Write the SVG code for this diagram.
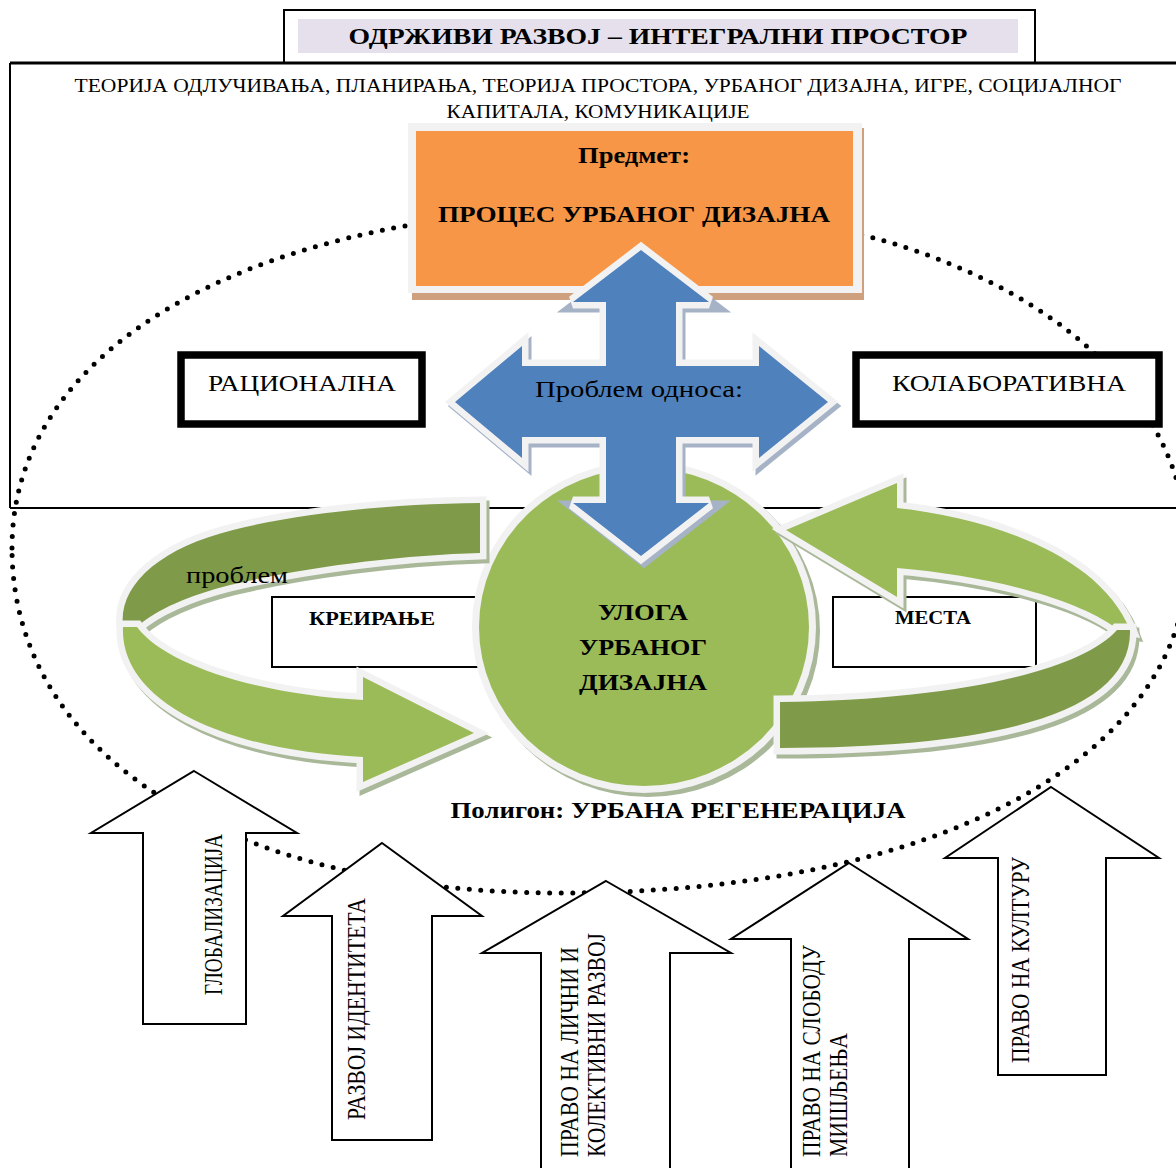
<svg xmlns="http://www.w3.org/2000/svg" width="1176" height="1168" viewBox="0 0 1176 1168">
<style>
text{font-family:"Liberation Serif","DejaVu Serif",serif;fill:#000}
.b{font-weight:bold}
.frame{fill:none;stroke:#000;stroke-width:2}
.dots{fill:none;stroke:#000;stroke-width:5;stroke-linecap:round;stroke-dasharray:0 11.5}
.thick{fill:#fff;stroke:#000;stroke-width:7.5}
.thin{fill:#fff;stroke:#000;stroke-width:2}
.up{fill:#fff;stroke:#000;stroke-width:2;stroke-linejoin:miter}
.out{stroke:#f2f2f2;stroke-width:13;paint-order:stroke;stroke-linejoin:miter;stroke-miterlimit:3}
.gsh{fill:#aab89a;stroke:#aab89a;stroke-width:13;stroke-linejoin:miter;stroke-miterlimit:3}
.lg{fill:#9bbb59}
.dg{fill:#7f9a48}
</style>
<defs>
<path id="cross" d="M641,250 L709,302 L676,302 L676,366 L759,366 L759,346 L828,402 L759,458 L759,437 L676,437 L676,503 L709,503 L641,556 L573,503 L606,503 L606,437 L522,437 L522,458 L455,402 L522,346 L522,366 L606,366 L606,302 L573,302 Z"/>
<path id="ldark" d="M480,503 L480,553 C400,555 300,568 230,585 C190,595 155,610 137,627 L123,627 C118,585 160,548 233,530 C300,513 390,504 480,503 Z"/>
<path id="llight" d="M123,627 C120,700 220,750 363,757 L363,782 L474,733 L363,677 L363,700 C260,695 165,665 137,627 Z"/>
<path id="rlight" d="M786,530 L897,483 L897,508 C990,518 1100,555 1130,630 L1116,628 C1075,598 990,576 897,568 L897,597 Z"/>
<path id="rdark" d="M1130,630 C1132,712 1000,748 780,748 L780,702 C950,700 1080,672 1117,630 Z"/>
</defs>

<!-- dotted polygon ellipse -->
<path class="dots" d="M12,548 C12,343 259,207 630,207 C958,207 1188,354 1188,555 C1188,758 937,893 560,893 C231,893 12,755 12,548 Z"/>

<!-- frames -->
<g id="frame">
<line class="frame" x1="10" y1="63" x2="1176" y2="63" style="stroke-width:3"/>
<line class="frame" x1="10" y1="63" x2="10" y2="508"/>
<line class="frame" x1="10" y1="508" x2="1176" y2="508"/>
</g>

<g id="title">
<rect x="284" y="10" width="751" height="53" class="frame"/>
<rect x="298" y="19" width="720" height="34" fill="#e5e0ec"/>
<text x="658" y="44" class="b" font-size="23" text-anchor="middle" textLength="619" lengthAdjust="spacingAndGlyphs">ОДРЖИВИ РАЗВОЈ – ИНТЕГРАЛНИ ПРОСТОР</text>
</g>

<g id="theories">
<text x="598" y="92" font-size="19" text-anchor="middle" textLength="1047" lengthAdjust="spacingAndGlyphs">ТЕОРИЈА ОДЛУЧИВАЊА, ПЛАНИРАЊА, ТЕОРИЈА ПРОСТОРА, УРБАНОГ ДИЗАЈНА, ИГРЕ, СОЦИЈАЛНОГ</text>
<text x="598" y="118" font-size="19" text-anchor="middle" textLength="303" lengthAdjust="spacingAndGlyphs">КАПИТАЛА, КОМУНИКАЦИЈЕ</text>
</g>

<g id="predmet">
<rect x="412" y="128" width="452" height="172" fill="#cfa07d"/>
<rect x="408" y="123" width="454" height="170" fill="#f2f2f2"/>
<rect x="416" y="131" width="437" height="155" fill="#f79646"/>
<text x="634" y="163" class="b" font-size="23" text-anchor="middle" textLength="112" lengthAdjust="spacingAndGlyphs">Предмет:</text>
<text x="634" y="222" class="b" font-size="23" text-anchor="middle" textLength="392" lengthAdjust="spacingAndGlyphs">ПРОЦЕС УРБАНОГ ДИЗАЈНА</text>
</g>

<g id="racionalna">
<rect x="181" y="355" width="241" height="69" class="thick"/>
<text x="302" y="391" font-size="24" text-anchor="middle" textLength="188" lengthAdjust="spacingAndGlyphs">РАЦИОНАЛНА</text>
</g>

<g id="kolaborativna">
<rect x="856" y="355" width="303" height="69" class="thick"/>
<text x="1009" y="391" font-size="24" text-anchor="middle" textLength="234" lengthAdjust="spacingAndGlyphs">КОЛАБОРАТИВНА</text>
</g>

<g id="kreiranje">
<rect x="272" y="597" width="230" height="70" class="thin"/>
<text x="372" y="625" class="b" font-size="18" text-anchor="middle" textLength="126" lengthAdjust="spacingAndGlyphs">КРЕИРАЊЕ</text>
</g>

<g id="mesta">
<rect x="833" y="597" width="203" height="70" class="thin"/>
<text x="933" y="624" class="b" font-size="18" text-anchor="middle" textLength="76" lengthAdjust="spacingAndGlyphs">МЕСТА</text>
</g>

<g id="uloga">
<ellipse cx="648" cy="631" rx="172" ry="166" fill="#aab89a"/>
<ellipse cx="644" cy="627" rx="172" ry="166" fill="#f2f2f2"/>
<ellipse cx="644" cy="627" rx="165" ry="159" fill="#9bbb59"/>
<text x="643" y="620" class="b" font-size="24" text-anchor="middle" textLength="90" lengthAdjust="spacingAndGlyphs">УЛОГА</text>
<text x="643" y="655" class="b" font-size="24" text-anchor="middle" textLength="128" lengthAdjust="spacingAndGlyphs">УРБАНОГ</text>
<text x="643" y="690" class="b" font-size="24" text-anchor="middle" textLength="128" lengthAdjust="spacingAndGlyphs">ДИЗАЈНА</text>
</g>

<g id="arrow-left">
<use href="#ldark" class="gsh" transform="translate(3,4)"/>
<use href="#llight" class="gsh" transform="translate(3,4)"/>
<use href="#ldark" class="dg out"/>
<use href="#llight" class="lg out"/>
</g>

<g id="arrow-right">
<use href="#rlight" class="gsh" transform="translate(3,4)"/>
<use href="#rdark" class="gsh" transform="translate(3,4)"/>
<use href="#rlight" class="lg out"/>
<use href="#rdark" class="dg out"/>
</g>

<g id="problem-odnosa">
<use href="#cross" transform="translate(3,4)" fill="#a6b3c7" stroke="#a6b3c7" stroke-width="13" stroke-linejoin="miter"/>
<use href="#cross" fill="#4f81bd" class="out"/>
<text x="639" y="397" font-size="24" text-anchor="middle" textLength="208" lengthAdjust="spacingAndGlyphs">Проблем односа:</text>
</g>

<text x="186" y="583" font-size="24" textLength="102" lengthAdjust="spacingAndGlyphs">проблем</text>

<text x="678" y="818" class="b" font-size="23" text-anchor="middle" textLength="455" lengthAdjust="spacingAndGlyphs">Полигон: УРБАНА РЕГЕНЕРАЦИЈА</text>

<g id="globalizacija">
<path class="up" d="M194,771 L297,833 L246,833 L246,1024 L143,1024 L143,833 L91,833 Z"/>
<text transform="translate(222,995) rotate(-90)" font-size="25" textLength="161" lengthAdjust="spacingAndGlyphs">ГЛОБАЛИЗАЦИЈА</text>
</g>

<g id="identitet">
<path class="up" d="M382,843 L482,916 L432,916 L432,1140 L332,1140 L332,916 L283,916 Z"/>
<text transform="translate(365,1120) rotate(-90)" font-size="25" textLength="222" lengthAdjust="spacingAndGlyphs">РАЗВОЈ ИДЕНТИТЕТА</text>
</g>

<g id="licni">
<path class="up" d="M606,881 L731,953 L670,953 L670,1172 L541,1172 L541,953 L482,953 Z"/>
<text transform="translate(578,1157) rotate(-90)" font-size="25" textLength="210" lengthAdjust="spacingAndGlyphs">ПРАВО НА ЛИЧНИ И</text>
<text transform="translate(605,1157) rotate(-90)" font-size="25" textLength="224" lengthAdjust="spacingAndGlyphs">КОЛЕКТИВНИ РАЗВОЈ</text>
</g>

<g id="sloboda">
<path class="up" d="M849,863 L968,939 L909,939 L909,1172 L791,1172 L791,939 L731,939 Z"/>
<text transform="translate(820,1157) rotate(-90)" font-size="25" textLength="212" lengthAdjust="spacingAndGlyphs">ПРАВО НА СЛОБОДУ</text>
<text transform="translate(847,1157) rotate(-90)" font-size="25" textLength="124" lengthAdjust="spacingAndGlyphs">МИШЉЕЊА</text>
</g>

<g id="kultura">
<path class="up" d="M1051,787 L1159,858 L1106,858 L1106,1075 L998,1075 L998,858 L945,858 Z"/>
<text transform="translate(1029,1063) rotate(-90)" font-size="25" textLength="206" lengthAdjust="spacingAndGlyphs">ПРАВО НА КУЛТУРУ</text>
</g>
</svg>
